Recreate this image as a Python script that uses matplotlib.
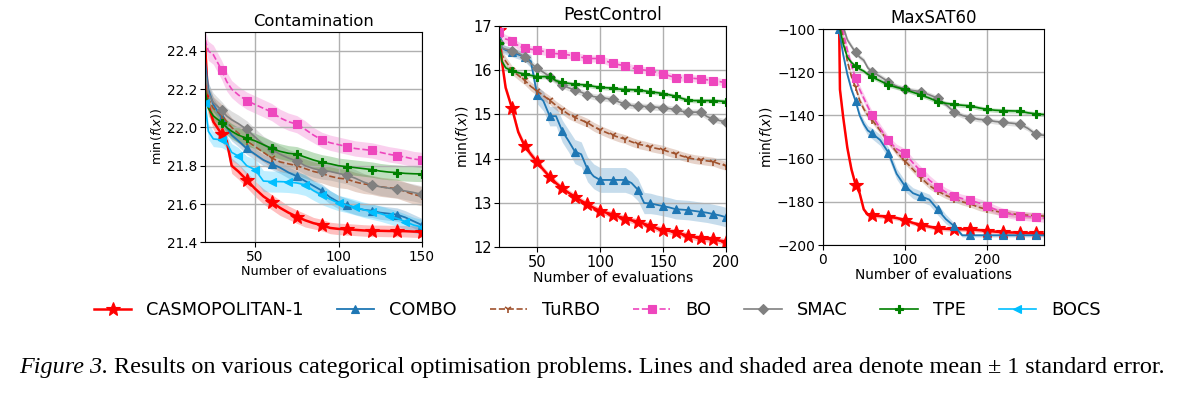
import numpy as np
import matplotlib
matplotlib.use("Agg")
import matplotlib.pyplot as plt
from matplotlib.lines import Line2D

# ---------------- Contamination ----------------
cont_x = [20, 22, 25, 30, 33, 36, 40, 45, 50, 55, 60, 65, 70, 75, 80, 85, 90, 95,
          100, 105, 110, 115, 120, 125, 130, 135, 140, 145, 150]
cont_casmo = [22.45, 22.12, 22.03, 21.965, 21.93, 21.80, 21.77, 21.726, 21.68, 21.64, 21.61, 21.58,
              21.555, 21.534, 21.515, 21.50, 21.49, 21.475, 21.47, 21.468, 21.465, 21.462, 21.46,
              21.46, 21.459, 21.459, 21.458, 21.456, 21.455]
cont_casmo_err = [0.04, 0.04, 0.04, 0.04, 0.04, 0.04, 0.04, 0.04, 0.04, 0.04, 0.04, 0.04, 0.035,
                  0.035, 0.035, 0.03, 0.03, 0.03, 0.03, 0.03, 0.03, 0.03, 0.03, 0.03, 0.03, 0.03,
                  0.03, 0.03, 0.03]
cont_combo = [22.35, 22.2, 22.12, 22.05, 22.0, 21.96, 21.93, 21.89, 21.86, 21.83, 21.81, 21.79,
              21.765, 21.745, 21.72, 21.695, 21.67, 21.635, 21.61, 21.595, 21.58, 21.57, 21.565,
              21.555, 21.55, 21.545, 21.53, 21.51, 21.49]
cont_combo_err = [0.04, 0.04, 0.035, 0.035, 0.035, 0.03, 0.03, 0.03, 0.03, 0.03, 0.03, 0.03, 0.03,
                  0.03, 0.03, 0.03, 0.035, 0.035, 0.035, 0.035, 0.035, 0.035, 0.035, 0.035, 0.035,
                  0.035, 0.035, 0.035, 0.035]
cont_turbo = [22.25, 22.15, 22.1, 22.065, 22.03, 22.0, 21.97, 21.93, 21.9, 21.87, 21.84, 21.82,
              21.81, 21.80, 21.785, 21.77, 21.76, 21.745, 21.735, 21.73, 21.715, 21.705, 21.70,
              21.69, 21.685, 21.68, 21.665, 21.65, 21.64]
cont_turbo_err = [0.06, 0.06, 0.06, 0.055, 0.055, 0.05, 0.05, 0.05, 0.05, 0.05, 0.05, 0.05, 0.05,
                  0.05, 0.05, 0.05, 0.05, 0.05, 0.05, 0.05, 0.05, 0.05, 0.05, 0.05, 0.05, 0.05,
                  0.05, 0.05, 0.05]
cont_bo = [22.46, 22.40, 22.38, 22.30, 22.24, 22.20, 22.17, 22.14, 22.12, 22.10, 22.08, 22.05,
           22.03, 22.017, 21.99, 21.96, 21.935, 21.92, 21.91, 21.90, 21.89, 21.885, 21.88, 21.87,
           21.86, 21.853, 21.845, 21.835, 21.83]
cont_bo_err = [0.05, 0.05, 0.05, 0.05, 0.05, 0.045, 0.045, 0.045, 0.045, 0.045, 0.045, 0.045,
               0.045, 0.045, 0.045, 0.04, 0.04, 0.04, 0.04, 0.04, 0.04, 0.04, 0.04, 0.04, 0.04,
               0.04, 0.04, 0.04, 0.04]
cont_smac = [22.3, 22.18, 22.13, 22.09, 22.06, 22.04, 22.02, 21.99, 21.95, 21.91, 21.885, 21.86,
             21.84, 21.825, 21.80, 21.785, 21.775, 21.77, 21.76, 21.75, 21.735, 21.715, 21.70,
             21.69, 21.683, 21.677, 21.668, 21.66, 21.65]
cont_smac_err = [0.05, 0.05, 0.05, 0.045, 0.045, 0.045, 0.045, 0.045, 0.045, 0.045, 0.045, 0.045,
                 0.045, 0.045, 0.045, 0.045, 0.045, 0.045, 0.045, 0.045, 0.045, 0.045, 0.045,
                 0.045, 0.045, 0.045, 0.045, 0.045, 0.045]
cont_tpe = [22.2, 22.1, 22.06, 22.025, 22.0, 21.98, 21.96, 21.944, 21.93, 21.91, 21.89, 21.875,
            21.865, 21.86, 21.845, 21.83, 21.818, 21.81, 21.80, 21.795, 21.79, 21.785, 21.78,
            21.772, 21.767, 21.764, 21.76, 21.758, 21.757]
cont_tpe_err = [0.04, 0.04, 0.04, 0.04, 0.04, 0.04, 0.04, 0.04, 0.04, 0.04, 0.04, 0.04, 0.04,
                0.04, 0.04, 0.04, 0.04, 0.04, 0.04, 0.04, 0.04, 0.04, 0.04, 0.04, 0.04, 0.04,
                0.04, 0.04, 0.04]
cont_bocs = [22.13, 21.98, 21.94, 21.935, 21.92, 21.87, 21.85, 21.80, 21.78, 21.72, 21.717,
             21.717, 21.715, 21.71, 21.70, 21.67, 21.647, 21.625, 21.605, 21.595, 21.583, 21.57,
             21.56, 21.55, 21.537, 21.525, 21.508, 21.49, 21.48]
cont_bocs_err = [0.04, 0.04, 0.04, 0.04, 0.04, 0.045, 0.045, 0.05, 0.055, 0.055, 0.055, 0.055,
                 0.055, 0.055, 0.055, 0.05, 0.05, 0.045, 0.04, 0.04, 0.04, 0.04, 0.04, 0.04,
                 0.04, 0.04, 0.04, 0.04, 0.04]

# ---------------- PestControl ----------------
pest_x = [20, 22, 25, 30, 35, 40, 45, 50, 55, 60, 65, 70, 75, 80, 85, 90, 95, 100, 105, 110,
          115, 120, 125, 130, 135, 140, 145, 150, 155, 160, 165, 170, 175, 180, 185, 190, 195, 200]
pest_casmo = [16.9, 16.2, 15.6, 15.14, 14.6, 14.29, 14.1, 13.92, 13.75, 13.59, 13.45, 13.33,
              13.23, 13.14, 13.05, 12.97, 12.89, 12.82, 12.78, 12.74, 12.69, 12.65, 12.61, 12.58,
              12.53, 12.48, 12.43, 12.39, 12.37, 12.34, 12.30, 12.26, 12.23, 12.2, 12.19, 12.18,
              12.15, 12.13]
pest_casmo_err = [0.08, 0.08, 0.08, 0.08, 0.08, 0.08, 0.08, 0.08, 0.07, 0.07, 0.07, 0.07, 0.07,
                  0.07, 0.07, 0.07, 0.07, 0.07, 0.07, 0.07, 0.07, 0.07, 0.07, 0.07, 0.07, 0.07,
                  0.07, 0.07, 0.07, 0.07, 0.07, 0.07, 0.07, 0.07, 0.07, 0.07, 0.07, 0.07]
pest_combo = [16.7, 16.5, 16.45, 16.4, 16.35, 16.3, 16.2, 15.44, 15.3, 14.96, 14.96, 14.62, 14.4,
              14.16, 14.1, 13.76, 13.6, 13.52, 13.52, 13.52, 13.52, 13.52, 13.45, 13.3, 13.0,
              12.99, 12.96, 12.93, 12.9, 12.86, 12.85, 12.84, 12.82, 12.8, 12.78, 12.75, 12.72,
              12.68]
pest_combo_err = [0.1, 0.1, 0.1, 0.1, 0.1, 0.1, 0.15, 0.2, 0.22, 0.22, 0.22, 0.25, 0.25, 0.27,
                  0.28, 0.28, 0.28, 0.28, 0.28, 0.28, 0.28, 0.28, 0.26, 0.25, 0.24, 0.23, 0.22,
                  0.22, 0.22, 0.22, 0.22, 0.22, 0.22, 0.22, 0.22, 0.22, 0.22, 0.22]
pest_turbo = [16.6, 16.35, 16.2, 16.0, 15.88, 15.77, 15.63, 15.53, 15.42, 15.32, 15.2, 15.1, 15.0,
              14.93, 14.87, 14.81, 14.72, 14.65, 14.59, 14.53, 14.48, 14.44, 14.38, 14.33, 14.3,
              14.26, 14.23, 14.2, 14.15, 14.11, 14.06, 14.02, 13.99, 13.97, 13.95, 13.93, 13.88,
              13.84]
pest_turbo_err = [0.1, 0.1, 0.1, 0.1, 0.1, 0.1, 0.1, 0.1, 0.1, 0.1, 0.1, 0.1, 0.1, 0.1, 0.1, 0.1,
                  0.1, 0.1, 0.1, 0.1, 0.1, 0.1, 0.1, 0.1, 0.1, 0.1, 0.1, 0.1, 0.1, 0.1, 0.1, 0.1,
                  0.1, 0.1, 0.1, 0.1, 0.1, 0.1]
pest_bo = [16.85, 16.75, 16.7, 16.66, 16.55, 16.49, 16.47, 16.45, 16.42, 16.39, 16.37, 16.36,
           16.34, 16.32, 16.29, 16.26, 16.26, 16.26, 16.2, 16.15, 16.12, 16.1, 16.05, 16.02, 16.0,
           15.98, 15.95, 15.92, 15.87, 15.83, 15.83, 15.83, 15.81, 15.8, 15.78, 15.76, 15.74, 15.71]
pest_bo_err = [0.1, 0.1, 0.1, 0.09, 0.09, 0.08, 0.08, 0.08, 0.08, 0.08, 0.08, 0.08, 0.08, 0.08,
               0.08, 0.08, 0.08, 0.08, 0.08, 0.08, 0.08, 0.08, 0.08, 0.08, 0.08, 0.08, 0.08, 0.08,
               0.08, 0.08, 0.08, 0.08, 0.08, 0.08, 0.08, 0.08, 0.08, 0.08]
pest_smac = [16.6, 16.5, 16.47, 16.44, 16.38, 16.3, 16.15, 16.04, 15.95, 15.85, 15.75, 15.66,
             15.6, 15.55, 15.5, 15.44, 15.4, 15.38, 15.36, 15.34, 15.28, 15.23, 15.2, 15.19,
             15.18, 15.17, 15.16, 15.15, 15.13, 15.11, 15.07, 15.05, 15.05, 15.05, 14.95, 14.89,
             14.86, 14.83]
pest_smac_err = [0.08, 0.08, 0.08, 0.08, 0.08, 0.08, 0.08, 0.07, 0.07, 0.07, 0.07, 0.07, 0.07,
                 0.07, 0.07, 0.07, 0.07, 0.07, 0.07, 0.07, 0.07, 0.07, 0.07, 0.07, 0.07, 0.07,
                 0.07, 0.07, 0.07, 0.07, 0.07, 0.07, 0.07, 0.07, 0.07, 0.07, 0.07, 0.07]
pest_tpe = [16.6, 16.2, 16.05, 15.98, 15.94, 15.91, 15.88, 15.85, 15.85, 15.85, 15.76, 15.72, 15.7,
            15.68, 15.67, 15.66, 15.63, 15.61, 15.6, 15.59, 15.57, 15.56, 15.555, 15.55, 15.53,
            15.51, 15.49, 15.47, 15.44, 15.41, 15.36, 15.32, 15.31, 15.31, 15.31, 15.31, 15.3,
            15.29]
pest_tpe_err = [0.06, 0.06, 0.06, 0.05, 0.05, 0.05, 0.05, 0.05, 0.05, 0.05, 0.05, 0.05, 0.05,
                0.05, 0.05, 0.05, 0.05, 0.05, 0.05, 0.05, 0.05, 0.05, 0.05, 0.05, 0.05, 0.05,
                0.05, 0.05, 0.05, 0.05, 0.05, 0.05, 0.05, 0.05, 0.05, 0.05, 0.05, 0.05]

# ---------------- MaxSAT60 ----------------
sat_x = [20, 21, 25, 30, 35, 40, 45, 50, 55, 60, 70, 80, 90, 100, 110, 120, 130, 140, 150, 160,
         170, 180, 190, 200, 210, 220, 230, 240, 250, 260, 270]
sat_casmo = [-97, -128, -141, -155, -165, -172, -176, -183.5, -186, -186.3, -186.6, -186.9,
             -187.5, -188.4, -189.8, -190.7, -191.5, -192.3, -192.5, -192.7, -192.7, -192.8,
             -193.1, -193.4, -193.8, -194.1, -194.2, -194.3, -194.5, -194.6, -194.8]
sat_casmo_err = [1.5, 1.5, 1.5, 1.5, 1.5, 1.2, 1.2, 1.0, 1.0, 1.0, 1.0, 1.0, 1.0, 1.0, 1.0, 1.0,
                 1.0, 1.0, 1.0, 1.0, 1.0, 1.0, 1.0, 1.0, 1.0, 1.0, 1.0, 1.0, 1.0, 1.0, 1.0]
sat_combo = [-100, -103, -112, -121, -128, -133.3, -140, -144, -147, -148.3, -151.4, -157.2,
             -167, -172.6, -176, -177.5, -179, -183.5, -188, -191.2, -195.5, -195.5, -195.5,
             -195.5, -195.5, -195.5, -195.5, -195.5, -195.5, -195.5, -195.5]
sat_combo_err = [1.5, 1.5, 1.5, 1.5, 1.5, 1.5, 1.8, 2.0, 2.2, 2.5, 2.5, 2.5, 2.5, 2.5, 2.5, 2.5,
                 2.5, 2.5, 2.2, 1.5, 0.8, 0.8, 0.8, 0.8, 0.8, 0.8, 0.8, 0.8, 0.8, 0.8, 0.8]
sat_turbo = [-92, -96, -104, -115, -122, -127, -133, -137, -140, -142, -147, -152, -157, -161,
             -165, -169, -172.5, -175, -177, -178.5, -180, -181, -182.5, -183.5, -184.3, -185,
             -185.5, -186, -186.2, -186.4, -186.6]
sat_turbo_err = [1.5, 1.5, 1.5, 1.5, 1.5, 1.5, 1.5, 1.5, 1.5, 1.5, 1.5, 1.5, 1.5, 1.5, 1.5, 1.5,
                 1.5, 1.5, 1.5, 1.5, 1.5, 1.5, 1.5, 1.5, 1.5, 1.5, 1.5, 1.5, 1.5, 1.5, 1.5]
sat_bo = [-92, -95, -101, -110, -117, -122.8, -128, -132, -136, -139.8, -146, -151.6, -155.5,
          -157.5, -162, -166, -170, -173, -175.5, -177.3, -178.5, -179.3, -180.5, -181.8, -183.5,
          -185, -185.8, -186.4, -186.8, -187.2, -187.5]
sat_bo_err = [2.0, 2.0, 2.0, 2.0, 2.0, 2.0, 2.0, 2.0, 2.0, 2.0, 2.0, 2.0, 2.2, 2.2, 2.2, 2.2, 2.2,
              2.0, 2.0, 2.0, 2.0, 2.0, 2.0, 2.0, 2.0, 2.0, 2.0, 2.0, 2.0, 2.0, 2.0]
sat_smac = [-90, -93, -99, -105, -108, -110.8, -113, -114.5, -118, -119.8, -122, -124.4, -126.5,
            -127.8, -128.5, -129, -130.5, -132, -135, -138.3, -140, -141, -141.8, -142.1, -142.8,
            -143.2, -143.6, -144, -146, -148.8, -149.2]
sat_smac_err = [1.2, 1.2, 1.2, 1.2, 1.2, 1.2, 1.2, 1.2, 1.2, 1.2, 1.2, 1.2, 1.2, 1.2, 1.2, 1.2,
                1.2, 1.2, 1.2, 1.2, 1.2, 1.2, 1.2, 1.2, 1.2, 1.2, 1.2, 1.2, 1.2, 1.2, 1.2]
sat_tpe = [-96, -100, -107, -113, -115.5, -117.2, -118.5, -119.5, -121, -122.2, -124, -125.9,
           -127, -128, -129.3, -130.6, -132, -133.6, -134.4, -134.9, -135.3, -135.6, -136.5,
           -137.2, -137.6, -137.8, -137.9, -138, -138.8, -139.3, -139.6]
sat_tpe_err = [1.0, 1.0, 1.0, 1.0, 1.0, 1.0, 1.0, 1.0, 1.0, 1.0, 1.0, 1.0, 1.0, 1.0, 1.0, 1.0,
               1.0, 1.0, 1.0, 1.0, 1.0, 1.0, 1.0, 1.0, 1.0, 1.0, 1.0, 1.0, 1.0, 1.0, 1.0]

# style per method: colour, marker, linestyle, markersize, linewidth
STYLES = {
    "CASMOPOLITAN-1": ("red", "*", "-", 10, 1.8),
    "COMBO": ("#1f77b4", "^", "-", 6, 1.3),
    "TuRBO": ("#a0522d", "1", "--", 6, 1.2),
    "BO": ("#ee46bd", "s", "--", 5.5, 1.2),
    "SMAC": ("gray", "D", "-", 5.5, 1.2),
    "TPE": ("green", "P", "-", 6, 1.2),
    "BOCS": ("deepskyblue", "<", "-", 6, 1.2),
}


def draw_panel(ax, x, series, mark_step, title, xlim, ylim, xticks, yticks, sizes):
    title_fs, label_fs, tick_fs = sizes
    x = np.array(x)
    for name, mean, err in series:
        color, marker, ls, ms, lw = STYLES[name]
        step = 10 if name == "BOCS" else mark_step
        idx = [i for i, v in enumerate(x) if v % step == 0]
        mean = np.array(mean)
        err = np.array(err)
        ax.fill_between(x, mean - err, mean + err, color=color, alpha=0.25, lw=0)
        ax.plot(x, mean, color=color, ls=ls, lw=lw, marker=marker, ms=ms,
                markevery=idx, mew=1.2 if marker == "1" else 0.8)
    ax.set_xlim(*xlim)
    ax.set_ylim(*ylim)
    ax.set_xticks(xticks)
    ax.set_yticks(yticks)
    ax.grid(True, color="#b0b0b0", lw=1.0)
    ax.set_title(title, fontsize=title_fs, pad=4)
    ax.set_xlabel("Number of evaluations", fontsize=label_fs, labelpad=1)
    ax.set_ylabel(r"min($f(x)$)", fontsize=label_fs, labelpad=2)
    ax.tick_params(labelsize=tick_fs, length=3.5, pad=2)


fig = plt.figure(figsize=(11.78, 3.98), dpi=100)

ax1 = fig.add_axes([0.1740, 0.3912, 0.1842, 0.5291])
draw_panel(ax1, cont_x, [
    ("CASMOPOLITAN-1", cont_casmo, cont_casmo_err),
    ("COMBO", cont_combo, cont_combo_err),
    ("TuRBO", cont_turbo, cont_turbo_err),
    ("BO", cont_bo, cont_bo_err),
    ("SMAC", cont_smac, cont_smac_err),
    ("TPE", cont_tpe, cont_tpe_err),
    ("BOCS", cont_bocs, cont_bocs_err),
], 15, "Contamination", (20, 150), (21.4, 22.5), [50, 100, 150],
    [21.4, 21.6, 21.8, 22.0, 22.2, 22.4], (11.8, 9.2, 9.8))
ax1.set_yticklabels(["21.4", "21.6", "21.8", "22.0", "22.2", "22.4"])

ax2 = fig.add_axes([0.4239, 0.3786, 0.1924, 0.5568])
draw_panel(ax2, pest_x, [
    ("CASMOPOLITAN-1", pest_casmo, pest_casmo_err),
    ("COMBO", pest_combo, pest_combo_err),
    ("TuRBO", pest_turbo, pest_turbo_err),
    ("BO", pest_bo, pest_bo_err),
    ("SMAC", pest_smac, pest_smac_err),
    ("TPE", pest_tpe, pest_tpe_err),
], 10, "PestControl", (20, 200), (12, 17), [50, 100, 150, 200],
    [12, 13, 14, 15, 16, 17], (12.4, 10.1, 10.5))

ax3 = fig.add_axes([0.6984, 0.3844, 0.1881, 0.5427])
draw_panel(ax3, sat_x, [
    ("CASMOPOLITAN-1", sat_casmo, sat_casmo_err),
    ("COMBO", sat_combo, sat_combo_err),
    ("TuRBO", sat_turbo, sat_turbo_err),
    ("BO", sat_bo, sat_bo_err),
    ("SMAC", sat_smac, sat_smac_err),
    ("TPE", sat_tpe, sat_tpe_err),
], 20, "MaxSAT60", (0, 270), (-200, -100), [0, 100, 200],
    [-200, -180, -160, -140, -120, -100], (12, 9.9, 10))

# shared legend
handles = []
for name, (color, marker, ls, ms, lw) in STYLES.items():
    handles.append(Line2D([], [], color=color, marker=marker, ls=ls, lw=lw, ms=ms,
                          mew=1.2 if marker == "1" else 0.8, label=name))
fig.legend(handles=handles, loc="center", bbox_to_anchor=(0.507, 0.221), ncol=7,
           frameon=False, fontsize=12.8, handlelength=2.1, handletextpad=0.85,
           columnspacing=1.85)

# caption
cap_font = "Liberation Serif"
t1 = fig.text(0.016, 0.062, "Figure 3.", fontsize=17.4, family=cap_font, style="italic",
              va="baseline")
fig.canvas.draw()
bb = t1.get_window_extent()
fig.text(bb.x1 / fig.bbox.width, 0.062,
         " Results on various categorical optimisation problems. Lines and shaded area "
         "denote mean \u00b1 1 standard error.",
         fontsize=17.4, family=cap_font, va="baseline")

fig.savefig("out.png", dpi=100)
